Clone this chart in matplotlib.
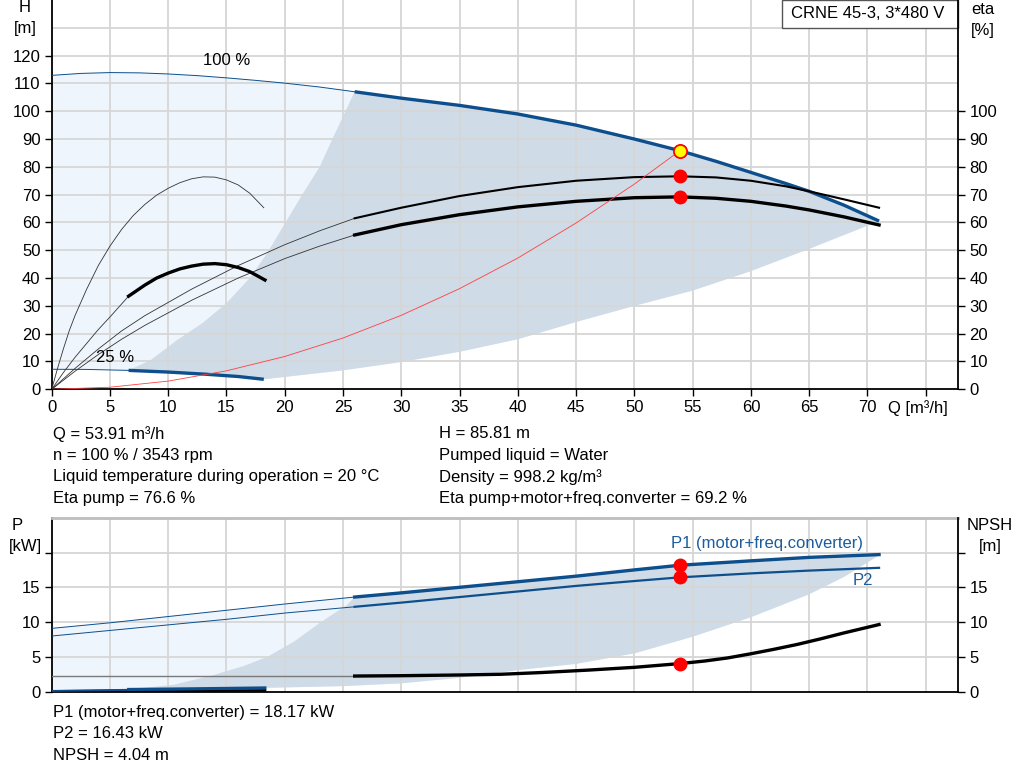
import numpy as np
import matplotlib
matplotlib.use("Agg")
import matplotlib.pyplot as plt
from matplotlib.patches import Rectangle

plt.rcParams['font.family'] = ['Liberation Sans', 'DejaVu Sans']

# ---------------- data (top chart) ----------------
q100 = [0, 2.5, 5, 7.5, 10, 12.5, 15, 17.5, 20, 23, 26, 30, 35, 40, 45, 50, 53.91, 57, 60, 63, 65, 68, 71]
h100 = [112.9, 113.6, 113.9, 113.8, 113.4, 112.8, 112.0, 111.1, 110.1, 108.7, 107.0, 104.7, 102.1, 99.0,
        95.0, 90.0, 85.81, 82.0, 78.0, 74.0, 71.2, 66.2, 60.5]
q_min100 = 26

q25 = [0, 3, 6.6, 10, 13.3, 16, 18.2]
h25 = [7.2, 7.15, 6.8, 6.2, 5.4, 4.6, 3.6]
q_min25 = 6.6

q_eta100 = [0, 2, 4, 6, 8, 12, 16, 20, 23, 26, 30, 35, 40, 45, 50, 53.91, 57, 60, 63, 65, 68, 71]
eta_pump_100 = [0, 7.5, 14.5, 21, 26.5, 36, 44.5, 52, 57, 61.5, 65.3, 69.5, 72.7, 75.0, 76.3, 76.6,
                76.2, 75.0, 73.0, 71.2, 68.3, 65.3]
eta_tot_100 = [0, 6.5, 12.5, 18, 23, 32, 40, 47, 51.5, 55.5, 59.2, 62.8, 65.6, 67.6, 68.9, 69.2,
               68.7, 67.6, 65.9, 64.5, 62.0, 59.1]

q_ep25 = [0, 0.5, 1, 1.5, 2, 3, 4, 5, 6, 7, 8, 9, 10, 11, 12, 13, 14, 15, 16, 17, 18.2]
eta_pump_25 = [0, 7.5, 14.5, 21, 26.5, 36, 44.5, 51.5, 57.5, 62.5, 66.5, 69.8, 72.3, 74.3, 75.7, 76.4,
               76.3, 75.3, 73.5, 70.5, 65.3]
q_et25 = [0, 1, 2, 3, 4, 5, 6.6, 8, 9, 10, 11, 12, 13, 14, 15, 16, 17, 18.3]
eta_tot_25 = [0, 6, 11.5, 16.5, 21.5, 26, 33.5, 37.5, 40, 41.8, 43.3, 44.3, 45, 45.2, 44.8, 43.8, 42.3, 39.3]

q_sys = [0, 5, 10, 15, 20, 25, 30, 35, 40, 45, 50, 53.91]
h_sys = [0, 0.75, 2.95, 6.65, 11.8, 18.45, 26.6, 36.2, 47.2, 59.8, 73.8, 85.81]

dark_left_q = [6.6, 8.5, 10.7, 13, 15, 17, 18.5, 20, 21.5, 23, 24.2, 26]
dark_left_h = [6.8, 10.5, 17.5, 24, 31, 40, 49, 59.5, 70, 80, 91, 107]
lower_q = [18.2, 25, 30, 35, 40, 45, 50, 55, 60, 65, 71]
lower_h = [3.6, 6.8, 9.8, 13.5, 18, 24.2, 30, 35.5, 42.5, 50.5, 60.5]

duty_q = 53.91
duty_h = 85.81
duty_eta_pump = 76.6
duty_eta_tot = 69.2

# ---------------- data (bottom chart) ----------------
p_q = [0, 5, 10, 15, 20, 26, 30, 35, 40, 45, 50, 53.91, 60, 65, 71]
p1 = [9.1, 9.9, 10.8, 11.7, 12.6, 13.6, 14.2, 15.0, 15.8, 16.6, 17.5, 18.17, 18.8, 19.3, 19.7]
p2 = [8.0, 8.8, 9.6, 10.4, 11.3, 12.2, 12.8, 13.6, 14.4, 15.2, 15.9, 16.43, 17.0, 17.4, 17.8]

p25_q = [0, 6.6, 12, 18.3]
p1_25 = [0.15, 0.33, 0.42, 0.55]
p2_25 = [0.08, 0.22, 0.32, 0.42]
npsh25 = [0.05, 0.1, 0.15, 0.2]

npsh_q = [0, 26, 30, 35, 38.5, 42, 46, 50, 53.91, 56, 58, 60, 62, 64, 66, 68, 70, 71]
npsh = [2.25, 2.25, 2.3, 2.4, 2.5, 2.75, 3.1, 3.5, 4.04, 4.4, 4.85, 5.45, 6.1, 6.8, 7.6, 8.45, 9.25, 9.65]

bdark_left_q = [6.6, 10.5, 13.9, 16.5, 18.5, 20.8, 23.1, 25.3, 26]
bdark_left_p = [0.33, 1.0, 2.4, 3.7, 5.0, 7.2, 10.0, 12.4, 13.6]
blower_q = [18.3, 25, 30, 35, 40, 45, 50, 55, 60, 65, 68, 71]
blower_p = [0.55, 0.8, 1.2, 2.0, 3.1, 4.0, 5.5, 7.9, 10.7, 14.0, 16.5, 19.6]

duty_p1 = 18.17
duty_p2 = 16.43
duty_npsh = 4.04

x_ticks = [0, 5, 10, 15, 20, 25, 30, 35, 40, 45, 50, 55, 60, 65, 70, 75]
h_ticks = [0, 10, 20, 30, 40, 50, 60, 70, 80, 90, 100, 110, 120]
eta_ticks = [0, 10, 20, 30, 40, 50, 60, 70, 80, 90, 100]
p_ticks = [0, 5, 10, 15, 20]

title_box = "CRNE 45-3, 3*480 V"
info_left = ["Q = 53.91 m³/h", "n = 100 % / 3543 rpm",
             "Liquid temperature during operation = 20 °C", "Eta pump = 76.6 %"]
info_right = ["H = 85.81 m", "Pumped liquid = Water", "Density = 998.2 kg/m³",
              "Eta pump+motor+freq.converter = 69.2 %"]
info_bottom = ["P1 (motor+freq.converter) = 18.17 kW", "P2 = 16.43 kW", "NPSH = 4.04 m"]

# ---------------- styles ----------------
BLUE = '#0c4f8c'
LBLUE = '#1c5c9c'
LIGHT = '#eef5fc'
DARK = '#cfdbe7'
GRID = '#d6d6d6'
THIN = '#333333'
FS = 12

W, H = 1024, 781
fig = plt.figure(figsize=(W / 100, H / 100), dpi=100)

def fx(px):
    return px / W

def fy(py):
    return 1 - py / H

L, R = 51.7, 958.3
ax = fig.add_axes([fx(L), fy(389.3), fx(R - L), 389.3 / H])
axb = fig.add_axes([fx(L), fy(691.7), fx(R - L), (691.7 - 517.7) / H])

def A(v):
    return np.asarray(v, dtype=float)

def split(q, v, qs):
    q = A(q); v = A(v)
    return (q[q <= qs], v[q <= qs]), (q[q >= qs], v[q >= qs])

# ---------------- top chart ----------------
ax.set_xlim(0, 77.8)
ax.set_ylim(0, 140)

Q100, H100 = A(q100), A(h100)
Q25, H25 = A(q25), A(h25)
lx = np.concatenate([Q100, A(lower_q)[::-1], Q25[::-1]])
ly = np.concatenate([H100, A(lower_h)[::-1], H25[::-1]])
ax.fill(lx, ly, color=LIGHT, lw=0, zorder=0.5)
m100 = Q100 >= q_min100
m25 = Q25 >= q_min25
dx = np.concatenate([A(dark_left_q), Q100[m100], A(lower_q)[::-1], Q25[m25][::-1]])
dy = np.concatenate([A(dark_left_h), H100[m100], A(lower_h)[::-1], H25[m25][::-1]])
ax.fill(dx, dy, color=DARK, lw=0, zorder=0.6)

for g in range(0, 80, 5):
    ax.axvline(g, color=GRID, lw=1.3, zorder=1)
for g in range(10, 140, 10):
    ax.axhline(g, color=GRID, lw=1.3, zorder=1)

(a, b), (c, d) = split(q100, h100, q_min100)
ax.plot(a, b, color=BLUE, lw=0.7, zorder=3)
ax.plot(c, d, color=BLUE, lw=2.4, zorder=3, solid_capstyle='butt')
(a, b), (c, d) = split(q25, h25, q_min25)
ax.plot(a, b, color=BLUE, lw=0.7, zorder=3)
ax.plot(c, d, color=BLUE, lw=2.4, zorder=3, solid_capstyle='butt')

(a, b), (c, d) = split(q_eta100, eta_pump_100, q_min100)
ax.plot(a, b, color=THIN, lw=0.6, zorder=3)
ax.plot(c, d, color='black', lw=1.5, zorder=3)
(a, b), (c, d) = split(q_eta100, eta_tot_100, q_min100)
ax.plot(a, b, color=THIN, lw=0.6, zorder=3)
ax.plot(c, d, color='black', lw=2.4, zorder=3)

ax.plot(q_ep25, eta_pump_25, color=THIN, lw=0.6, zorder=3)
(a, b), (c, d) = split(q_et25, eta_tot_25, q_min25)
ax.plot(a, b, color=THIN, lw=0.6, zorder=3)
ax.plot(c, d, color='black', lw=2.4, zorder=3)

ax.plot(q_sys, h_sys, color='#ff4040', lw=0.6, zorder=3)

ax.plot([duty_q], [duty_eta_pump], 'o', ms=9, color='#ff0000', mec='#ff0000', zorder=5)
ax.plot([duty_q], [duty_eta_tot], 'o', ms=9, color='#ff0000', mec='#ff0000', zorder=5)
ax.plot([duty_q], [duty_h], 'o', ms=9.5, color='#ffff00', mec='#ff0000', mew=1.3, zorder=6)

ax.text(15.05, 118.1, "100 %", fontsize=FS, ha='center', va='center', zorder=7)
ax.text(5.4, 11.3, "25 %", fontsize=FS, ha='center', va='center', zorder=7)

ax.set_xticks(x_ticks)
ax.set_xticklabels([str(t) if t <= 70 else '' for t in x_ticks])
ax.set_yticks(h_ticks)
ax.tick_params(direction='out', length=5, width=1, labelsize=FS, pad=3)
ax.spines['top'].set_visible(False)
ax.spines['right'].set_visible(False)
for s in ['left', 'bottom']:
    ax.spines[s].set_linewidth(1.3)

axr = ax.twinx()
axr.set_ylim(0, 140)
axr.set_yticks(eta_ticks)
axr.tick_params(direction='out', length=5, width=1, labelsize=FS, pad=3)
axr.spines['right'].set_linewidth(1.3)
for s in ['top', 'left', 'bottom']:
    axr.spines[s].set_visible(False)

bx0 = (782 - L) / (R - L)
ax.add_patch(Rectangle((bx0, 1 - 28 / 389.3), 1 - bx0, 28 / 389.3,
                       transform=ax.transAxes, facecolor='white', edgecolor='#555555', lw=1, zorder=8,
                       clip_on=False))
ax.text((868 - L) / (R - L), 1 - 14 / 389.3, title_box, transform=ax.transAxes, fontsize=FS,
        ha='center', va='center', zorder=9)

# ---------------- bottom chart ----------------
axb.set_xlim(0, 77.8)
axb.set_ylim(0, 25)

PQ = A(p_q)
lx = np.concatenate([PQ, A(blower_q)[::-1], A(p25_q)[::-1]])
ly = np.concatenate([A(p1), A(blower_p)[::-1], A(p1_25)[::-1]])
axb.fill(lx, ly, color=LIGHT, lw=0, zorder=0.5)
mp = PQ >= q_min100
P25Q = A(p25_q)
m25b = P25Q >= q_min25
dx = np.concatenate([A(bdark_left_q), PQ[mp], A(blower_q)[::-1], P25Q[m25b][::-1]])
dy = np.concatenate([A(bdark_left_p), A(p1)[mp], A(blower_p)[::-1], A(p1_25)[m25b][::-1]])
axb.fill(dx, dy, color=DARK, lw=0, zorder=0.6)

for g in range(5, 80, 5):
    axb.axvline(g, color=GRID, lw=1.3, zorder=1)
for g in [5, 10, 15, 20]:
    axb.axhline(g, color=GRID, lw=1.3, zorder=1)

(a, b), (c, d) = split(p_q, p1, q_min100)
axb.plot(a, b, color=BLUE, lw=0.7, zorder=3)
axb.plot(c, d, color=BLUE, lw=2.4, zorder=3)
(a, b), (c, d) = split(p_q, p2, q_min100)
axb.plot(a, b, color=BLUE, lw=0.7, zorder=3)
axb.plot(c, d, color=BLUE, lw=1.6, zorder=3)

axb.plot(p25_q, npsh25, color='black', lw=2.0, zorder=3)
(a, b), (c, d) = split(p25_q, p1_25, q_min25)
axb.plot(a, b, color=BLUE, lw=0.8, zorder=3)
axb.plot(c, d, color=BLUE, lw=2.2, zorder=3)
axb.plot(p25_q, p2_25, color=BLUE, lw=1.0, zorder=3)

(a, b), (c, d) = split(npsh_q, npsh, q_min100)
axb.plot(a, b, color='#7a7a7a', lw=1.0, zorder=3)
axb.plot(c, d, color='black', lw=2.4, zorder=3)

for v in [duty_p1, duty_p2, duty_npsh]:
    axb.plot([duty_q], [v], 'o', ms=9, color='#ff0000', mec='#ff0000', zorder=5)

axb.text(61.4, 21.3, "P1 (motor+freq.converter)", color=LBLUE, fontsize=FS, ha='center', va='center', zorder=7)
axb.text(69.6, 16.0, "P2", color=LBLUE, fontsize=FS, ha='center', va='center', zorder=7)

axb.set_xticks([])
axb.set_yticks(p_ticks)
axb.set_yticklabels([str(t) if t < 20 else '' for t in p_ticks])
axb.tick_params(direction='out', length=5, width=1, labelsize=FS, pad=3)
axb.spines['top'].set_color('#bdbdbd')
axb.spines['top'].set_linewidth(2)
axb.spines['right'].set_visible(False)
for s in ['left', 'bottom']:
    axb.spines[s].set_linewidth(1.3)

axbr = axb.twinx()
axbr.set_ylim(0, 25)
axbr.set_yticks(p_ticks)
axbr.set_yticklabels([str(t) if t < 20 else '' for t in p_ticks])
axbr.tick_params(direction='out', length=5, width=1, labelsize=FS, pad=3)
axbr.spines['right'].set_linewidth(1.3)
for s in ['top', 'left', 'bottom']:
    axbr.spines[s].set_visible(False)

# ---------------- figure texts ----------------
def T(x, y, s, ha='left'):
    fig.text(fx(x), fy(y), s, fontsize=FS, ha=ha, va='center')

T(25, 8, "H", 'center')
T(25, 28, "[m]", 'center')
T(983, 10, "eta", 'center')
T(983, 30, "[%]", 'center')
T(888, 408, "Q [m³/h]")
T(17, 526, "P", 'center')
T(25, 547, "[kW]", 'center')
T(990, 526, "NPSH", 'center')
T(990, 547, "[m]", 'center')

for i, s in enumerate(info_left):
    T(53, 434 + i * 21.5, s)
for i, s in enumerate(info_right):
    T(439, 434 + i * 21.5, s)
for i, s in enumerate(info_bottom):
    T(53, 713 + i * 21, s)

fig.savefig("out.png", dpi=100)
